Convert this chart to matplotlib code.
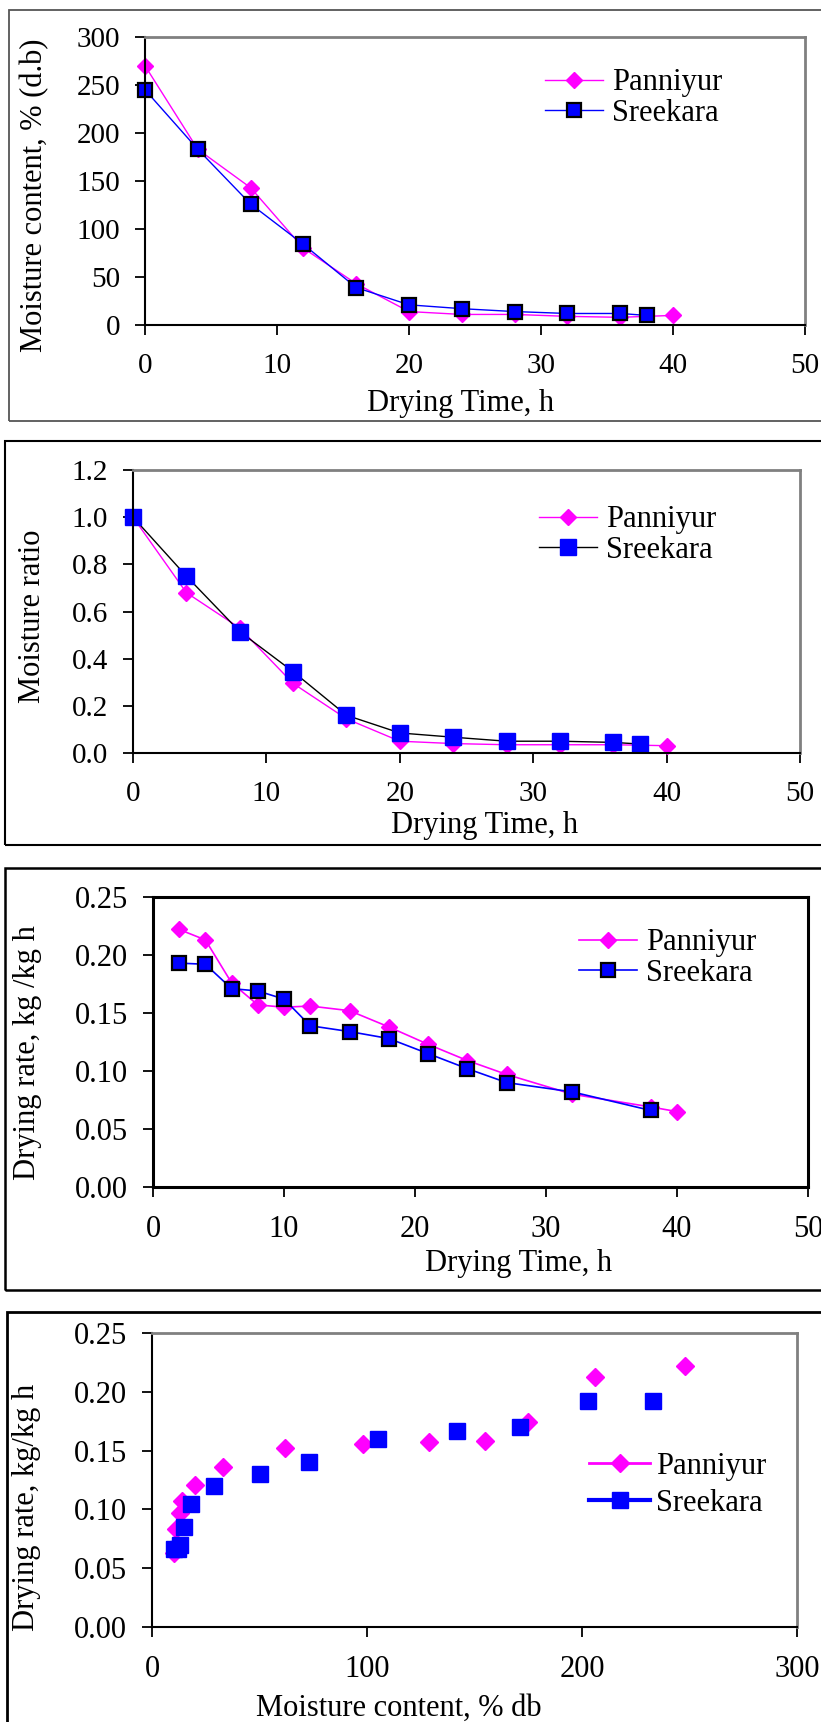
import matplotlib
matplotlib.use('Agg')
import matplotlib.pyplot as plt
from matplotlib.patches import Rectangle
from matplotlib.lines import Line2D

plt.rcParams['font.family'] = ['Liberation Serif', 'DejaVu Serif']

# panel 1: moisture content vs drying time
time_p = [0, 4, 8, 12, 16, 20, 24, 28, 32, 36, 40]
mc_p = [270, 183, 143, 80, 43, 14, 11, 11, 9, 8, 10]
time_s = [0, 4, 8, 12, 16, 20, 24, 28, 32, 36, 38]
mc_s = [245, 183, 126, 84, 39, 21, 17, 14, 12, 12, 10]

# panel 2: moisture ratio vs drying time
mr_p = [1.0, 0.68, 0.53, 0.295, 0.145, 0.05, 0.04, 0.035, 0.035, 0.035, 0.031]
mr_s = [1.0, 0.75, 0.515, 0.345, 0.16, 0.085, 0.067, 0.05, 0.05, 0.045, 0.038]

# panel 3: drying rate vs drying time
t3_p = [2, 4, 6, 8, 10, 12, 15, 18, 21, 24, 27, 32, 38, 40]
dr_p = [0.222, 0.213, 0.176, 0.157, 0.155, 0.156, 0.152, 0.138, 0.123, 0.109, 0.097, 0.080, 0.069, 0.065]
t3_s = [2, 4, 6, 8, 10, 12, 15, 18, 21, 24, 27, 32, 38]
dr_s = [0.193, 0.192, 0.171, 0.169, 0.162, 0.139, 0.134, 0.128, 0.115, 0.102, 0.090, 0.082, 0.066]

# panel 4: drying rate vs moisture content
mc4_p = [248, 206, 175, 155, 129, 98, 62, 33, 20, 14, 13, 11, 10]
dr4_p = [0.222, 0.213, 0.174, 0.158, 0.157, 0.156, 0.152, 0.136, 0.121, 0.107, 0.097, 0.083, 0.063]
mc4_s = [233, 203, 171, 142, 105, 73, 50, 29, 18, 15, 13, 12, 10]
dr4_s = [0.192, 0.192, 0.170, 0.167, 0.160, 0.140, 0.130, 0.120, 0.105, 0.085, 0.070, 0.066, 0.066]

W, H = 821, 1722
PINK = '#FF00FF'
BLUE = '#0000FF'
GRAY = '#808080'

fig = plt.figure(figsize=(W / 100, H / 100), dpi=100)


def frame(l, t, r, b, color='black', lw=1.5):
    fig.add_artist(Rectangle((l / W, 1 - b / H), (r - l) / W, (b - t) / H,
                             transform=fig.transFigure, fill=False, ec=color, lw=lw))


def add_ax(l, t, r, b, box_black=False, tsize=21):
    ax = fig.add_axes([l / W, 1 - b / H, (r - l) / W, (b - t) / H])
    for s in ['left', 'bottom']:
        ax.spines[s].set_color('black')
        ax.spines[s].set_linewidth(1.5)
    for s in ['top', 'right']:
        ax.spines[s].set_color('black' if box_black else GRAY)
        ax.spines[s].set_linewidth(2.0)
    if box_black:
        for s in ax.spines.values():
            s.set_linewidth(2.2)
    ax.tick_params(direction='out', length=7, width=1.3, labelsize=tsize, colors='black')
    ax.tick_params(axis='x', pad=13)
    ax.tick_params(axis='y', pad=11)
    ax.set_facecolor('white')
    return ax, (l, t, r, b)


def labels(ax, box, xlab, xc, yc, ylab, yx, yy, size=22):
    l, t, r, b = box
    ax.set_xlabel(xlab, fontsize=size, va='center', ha='center')
    ax.xaxis.set_label_coords((xc - l) / (r - l), (b - yc) / (b - t))
    ax.set_ylabel(ylab, fontsize=size, va='center', ha='center')
    ax.yaxis.set_label_coords((yx - l) / (r - l), (b - yy) / (b - t))


def legend(ax, handles, x, y):
    ax.legend(handles=handles, loc='center left', bbox_to_anchor=(x / W, 1 - y / H),
              bbox_transform=fig.transFigure, frameon=False, borderpad=0, borderaxespad=0,
              handlelength=1.9, handletextpad=0.3, labelspacing=0.05, fontsize=22, numpoints=1)


# frames around each panel
frame(9, 10, 840, 421, color='#555555', lw=1.3)
frame(5, 441, 840, 845)
frame(5, 868, 840, 1290, lw=1.8)
frame(7, 1312, 840, 1760, lw=2.0)

# ---- panel 1
ax, box = add_ax(145, 37, 805, 325)
l1, = ax.plot(time_p, mc_p, color=PINK, lw=1.0, marker='D', ms=8.5, mfc=PINK, mec=PINK,
              clip_on=False, label='Panniyur')
l2, = ax.plot(time_s, mc_s, color=BLUE, lw=1.0, marker='s', ms=10.5, mfc=BLUE, mec='black',
              mew=1.6, clip_on=False, label='Sreekara')
ax.set_xlim(0, 50)
ax.set_ylim(0, 300)
ax.set_xticks(range(0, 51, 10))
ax.set_yticks(range(0, 301, 50))
labels(ax, box, 'Drying Time, h', 461, 403, 'Moisture content, % (d.b)', 35, 195)
legend(ax, [l1, l2], 545, 98)

# ---- panel 2
ax, box = add_ax(133, 470, 800, 753)
l1, = ax.plot(time_p, mr_p, color=PINK, lw=1.0, marker='D', ms=8.5, mfc=PINK, mec=PINK,
              clip_on=False, label='Panniyur')
l2, = ax.plot(time_s, mr_s, color='black', lw=1.0, marker='s', ms=11, mfc=BLUE, mec=BLUE,
              clip_on=False, label='Sreekara')
ax.set_xlim(0, 50)
ax.set_ylim(0, 1.2)
ax.set_xticks(range(0, 51, 10))
ax.set_yticks([0.0, 0.2, 0.4, 0.6, 0.8, 1.0, 1.2])
ax.set_yticklabels(['%.1f' % v for v in ax.get_yticks()])
labels(ax, box, 'Drying Time, h', 485, 825, 'Moisture ratio', 32, 616)
legend(ax, [l1, l2], 539, 535)

# ---- panel 3
ax, box = add_ax(153, 897, 808, 1187, box_black=True, tsize=22)
l1, = ax.plot(t3_p, dr_p, color=PINK, lw=1.2, marker='D', ms=8.5, mfc=PINK, mec=PINK,
              clip_on=False, label='Panniyur')
l2, = ax.plot(t3_s, dr_s, color=BLUE, lw=1.2, marker='s', ms=10.5, mfc=BLUE, mec='black',
              mew=1.6, clip_on=False, label='Sreekara')
ax.set_xlim(0, 50)
ax.set_ylim(0, 0.25)
ax.set_xticks(range(0, 51, 10))
ax.set_yticks([0.0, 0.05, 0.10, 0.15, 0.20, 0.25])
ax.set_yticklabels(['%.2f' % v for v in ax.get_yticks()])
labels(ax, box, 'Drying Time, h', 519, 1263, 'Drying rate, kg /kg h', 28, 1053)
legend(ax, [l1, l2], 579, 958)

# ---- panel 4
ax, box = add_ax(152, 1333, 797, 1627, tsize=22)
ax.plot(mc4_p, dr4_p, ls='none', marker='D', ms=9, mfc=PINK, mec=PINK, clip_on=False)
ax.plot(mc4_s, dr4_s, ls='none', marker='s', ms=12, mfc=BLUE, mec=BLUE, clip_on=False)
ax.set_xlim(0, 300)
ax.set_ylim(0, 0.25)
ax.set_xticks(range(0, 301, 100))
ax.set_yticks([0.0, 0.05, 0.10, 0.15, 0.20, 0.25])
ax.set_yticklabels(['%.2f' % v for v in ax.get_yticks()])
labels(ax, box, 'Moisture content, % db', 399, 1708, 'Drying rate, kg/kg h', 27, 1507)
h1 = Line2D([], [], color=PINK, lw=2.0, marker='D', ms=9, mfc=PINK, mec=PINK)
h2 = Line2D([], [], color=BLUE, lw=3.0, marker='s', ms=12, mfc=BLUE, mec=BLUE)
ax.legend(handles=[h1, h2], labels=['Panniyur', 'Sreekara'], loc='center left',
          bbox_to_anchor=(589 / W, 1 - 1485 / H), bbox_transform=fig.transFigure,
          frameon=False, borderpad=0, borderaxespad=0, handlelength=2.0, handletextpad=0.2,
          labelspacing=0.25, fontsize=22, numpoints=1)

fig.savefig('out.png', dpi=100)
